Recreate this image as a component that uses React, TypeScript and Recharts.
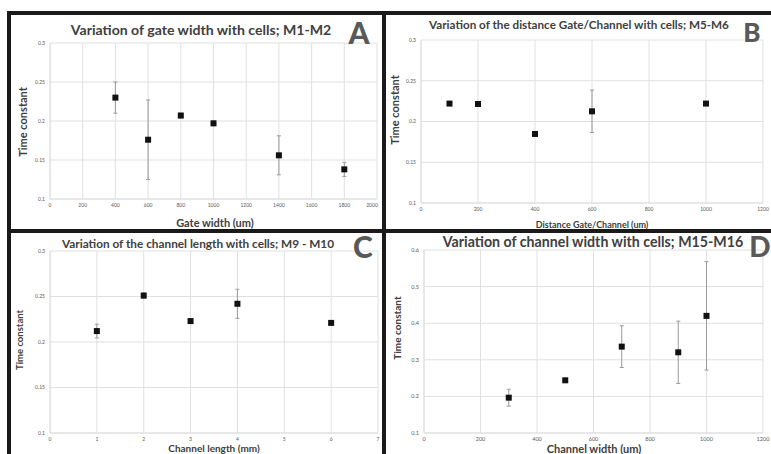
import React from 'react';
import {
  ScatterChart,
  Scatter,
  XAxis,
  YAxis,
  CartesianGrid,
  ErrorBar,
  Label,
} from 'recharts';

// A - gate width
const gateWidth = [400, 600, 800, 1000, 1400, 1800];
const gateTau = [0.23, 0.176, 0.207, 0.197, 0.156, 0.138];
const gateErr = [0.02, 0.051, 0.003, 0.003, 0.025, 0.009];
const gateXTicks = [0, 200, 400, 600, 800, 1000, 1200, 1400, 1600, 1800, 2000];

// B - distance gate/channel
const distGC = [100, 200, 400, 600, 1000];
const distTau = [0.222, 0.2215, 0.1847, 0.2125, 0.222];
const distErr = [0, 0, 0, 0.026, 0];
const distXTicks = [0, 200, 400, 600, 800, 1000, 1200];

// C - channel length
const chanLength = [1, 2, 3, 4, 6];
const lengthTau = [0.212, 0.251, 0.223, 0.242, 0.221];
const lengthErr = [0.0075, 0.003, 0, 0.016, 0];
const lengthXTicks = [0, 1, 2, 3, 4, 5, 6, 7];

// D - channel width
const chanWidth = [300, 500, 700, 900, 1000];
const widthTau = [0.1965, 0.244, 0.336, 0.3205, 0.42];
const widthErr = [0.023, 0, 0.057, 0.085, 0.148];
const widthXTicks = [0, 200, 400, 600, 800, 1000, 1200];

const tauTicks = [0.1, 0.15, 0.2, 0.25, 0.3];
const tauTicksD = [0.1, 0.2, 0.3, 0.4, 0.5, 0.6];

const FONT = 'Lato, "Open Sans", sans-serif';
const GRID = '#e0e0e0';
const TEXT = '#404040';

const rows = (xs: number[], ys: number[], es: number[]) =>
  xs.map((x, i) => ({ x, y: ys[i], err: es[i] }));

type Panel = {
  box: { x: number; y: number; w: number; h: number };
  plot: { l: number; r: number; t: number; b: number };
  data: { x: number; y: number; err: number }[];
  xTicks: number[];
  yTicks: number[];
  title: string;
  titleAt: [number, number, number];
  letter: string;
  letterAt: [number, number, number];
  xLabel: string;
  xLabelAt: [number, number, number];
  yLabelAt: [number, number, number];
  tickSize: number;
  lastTickDx: number;
};

const panels: Panel[] = [
  {
    box: { x: 12, y: 15, w: 370, h: 214 },
    plot: { l: 50, r: 377, t: 43, b: 199 },
    data: rows(gateWidth, gateTau, gateErr),
    xTicks: gateXTicks,
    yTicks: tauTicks,
    title: 'Variation of gate width with cells; M1-M2',
    titleAt: [201, 30, 14.1],
    letter: 'A',
    letterAt: [359, 32, 30],
    xLabel: 'Gate width (um)',
    xLabelAt: [215, 222, 11],
    yLabelAt: [22, 122, 11],
    tickSize: 5,
    lastTickDx: -5,
  },
  {
    box: { x: 386, y: 15, w: 385, h: 214 },
    plot: { l: 421, r: 763, t: 40, b: 203 },
    data: rows(distGC, distTau, distErr),
    xTicks: distXTicks,
    yTicks: tauTicks,
    title: 'Variation of the distance Gate/Channel with cells; M5-M6',
    titleAt: [579, 25, 11.7],
    letter: 'B',
    letterAt: [752, 32, 26],
    xLabel: 'Distance Gate/Channel (um)',
    xLabelAt: [592, 224, 9],
    yLabelAt: [394, 110, 11],
    tickSize: 5,
    lastTickDx: 0,
  },
  {
    box: { x: 12, y: 233, w: 370, h: 221 },
    plot: { l: 50, r: 378, t: 251, b: 433 },
    data: rows(chanLength, lengthTau, lengthErr),
    xTicks: lengthXTicks,
    yTicks: tauTicks,
    title: 'Variation of the channel length with cells; M9 - M10',
    titleAt: [198, 244, 11.8],
    letter: 'C',
    letterAt: [363, 246, 30],
    xLabel: 'Channel length (mm)',
    xLabelAt: [214, 448, 10],
    yLabelAt: [19, 340, 9.5],
    tickSize: 5,
    lastTickDx: 0,
  },
  {
    box: { x: 386, y: 233, w: 385, h: 221 },
    plot: { l: 424, r: 763, t: 250, b: 433 },
    data: rows(chanWidth, widthTau, widthErr),
    xTicks: widthXTicks,
    yTicks: tauTicksD,
    title: 'Variation of channel width with cells; M15-M16',
    titleAt: [593, 242, 14.2],
    letter: 'D',
    letterAt: [760, 246, 28],
    xLabel: 'Channel width (um)',
    xLabelAt: [594, 448, 11],
    yLabelAt: [397, 328, 10],
    tickSize: 5.5,
    lastTickDx: 0,
  },
];

const Square = (props: any) => {
  const { cx, cy } = props;
  return <rect x={cx - 3} y={cy - 3} width={6} height={6} fill="#111111" />;
};

function PanelChart({ p }: { p: Panel }) {
  const { box, plot } = p;
  const top = plot.t - box.y;
  const right = box.x + box.w - plot.r;
  const yw = plot.l - box.x;
  const xh = box.y + box.h - plot.b;
  const last = p.xTicks[p.xTicks.length - 1];
  const XTick = (t: any) => (
    <text
      x={t.x + (t.payload.value === last ? p.lastTickDx : 0)}
      y={t.y}
      dy="0.71em"
      textAnchor="middle"
      fontSize={p.tickSize}
      fill="#595959"
      fontFamily={FONT}
    >
      {t.payload.value}
    </text>
  );
  return (
    <div style={{ position: 'absolute', left: box.x, top: box.y }}>
      <ScatterChart
        width={box.w}
        height={box.h}
        margin={{ top, right, bottom: 0, left: 0 }}
      >
        <CartesianGrid stroke={GRID} strokeWidth={1} />
        <XAxis
          type="number"
          dataKey="x"
          domain={[p.xTicks[0], last]}
          ticks={p.xTicks}
          height={xh}
          tick={XTick}
          tickLine={false}
          tickSize={0}
          tickMargin={4}
          axisLine={{ stroke: GRID }}
          interval={0}
        >
          <Label
            content={() => (
              <text
                x={p.xLabelAt[0] - box.x}
                y={p.xLabelAt[1] - box.y}
                textAnchor="middle"
                dominantBaseline="central"
                fontSize={p.xLabelAt[2]}
                fontWeight={700}
                fontFamily={FONT}
                fill={TEXT}
              >
                {p.xLabel}
              </text>
            )}
          />
        </XAxis>
        <YAxis
          type="number"
          dataKey="y"
          domain={[p.yTicks[0], p.yTicks[p.yTicks.length - 1]]}
          ticks={p.yTicks}
          width={yw}
          tick={{ fontSize: p.tickSize, fill: '#595959', fontFamily: FONT }}
          tickLine={false}
          tickSize={0}
          tickMargin={5}
          axisLine={{ stroke: GRID }}
          interval={0}
        >
          <Label
            content={() => {
              const lx = p.yLabelAt[0] - box.x;
              const ly = p.yLabelAt[1] - box.y;
              return (
                <text
                  x={lx}
                  y={ly}
                  transform={`rotate(-90 ${lx} ${ly})`}
                  textAnchor="middle"
                  dominantBaseline="central"
                  fontSize={p.yLabelAt[2]}
                  fontWeight={700}
                  fontFamily={FONT}
                  fill={TEXT}
                >
                  Time constant
                </text>
              );
            }}
          />
        </YAxis>
        <Scatter data={p.data} shape={Square} isAnimationActive={false}>
          <ErrorBar dataKey="err" direction="y" width={2} stroke="#9a9a9a" strokeWidth={1} />
        </Scatter>
      </ScatterChart>
    </div>
  );
}

function Overlay({ p }: { p: Panel }) {
  return (
    <>
      <div
        style={{
          position: 'absolute',
          left: p.titleAt[0],
          top: p.titleAt[1],
          transform: 'translate(-50%, -50%)',
          whiteSpace: 'nowrap',
          fontFamily: FONT,
          fontWeight: 700,
          fontSize: p.titleAt[2],
          color: TEXT,
          lineHeight: 1,
        }}
      >
        {p.title}
      </div>
      <div
        style={{
          position: 'absolute',
          left: p.letterAt[0],
          top: p.letterAt[1],
          transform: 'translate(-50%, -50%)',
          fontFamily: FONT,
          fontWeight: 900,
          fontSize: p.letterAt[2],
          color: '#595959',
          lineHeight: 1,
        }}
      >
        {p.letter}
      </div>
    </>
  );
}

const bar = (left: number, top: number, width: number, height: number) => (
  <div style={{ position: 'absolute', left, top, width, height, background: '#1a1a1a' }} />
);

export default function App() {
  return (
    <div
      style={{
        position: 'absolute',
        left: 0,
        top: 0,
        width: 771,
        height: 454,
        background: '#ffffff',
        overflow: 'hidden',
      }}
    >
      {panels.map((p, i) => (
        <PanelChart key={i} p={p} />
      ))}
      {panels.map((p, i) => (
        <Overlay key={'o' + i} p={p} />
      ))}
      {bar(8, 11, 763, 4)}
      {bar(7, 11, 4, 443)}
      {bar(382, 11, 4, 443)}
      {bar(8, 229, 763, 4)}
    </div>
  );
}
